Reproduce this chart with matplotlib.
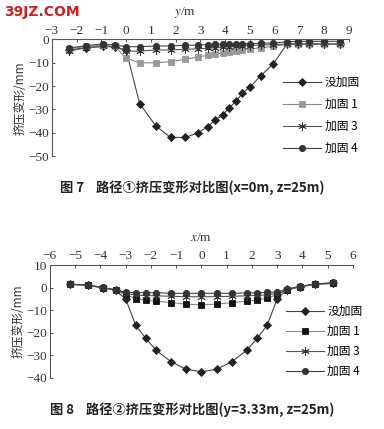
import matplotlib
matplotlib.use("Agg")
import matplotlib.pyplot as plt

plt.rcParams['font.family'] = ['Liberation Serif', 'Noto Sans CJK SC', 'DejaVu Sans']
plt.rcParams['mathtext.fontset'] = 'stix'

# path 1 (figure 7): positions along y, deformation in mm
pos1 = [-2.3, -1.6, -0.95, -0.45, 0, 0.55, 1.2, 1.8, 2.4, 2.9, 3.3, 3.6,
        3.9, 4.15, 4.45, 4.7, 5.0, 5.45, 5.95, 6.5, 6.95, 7.4, 8.0, 8.65]
none1 = [-4.5, -3.5, -3.0, -3.2, -4.5, -27.5, -37, -42, -42, -40, -37.5, -34.5,
         -32.5, -29.5, -26.5, -23, -20.5, -15.5, -10.5, -2.0, -1.8, -1.8, -1.8, -1.8]
r1_1 = [-4.0, -3.0, -2.5, -3.0, -8.0, -10, -10, -9.5, -8.5, -7.5, -6.8, -6.2,
        -5.8, -5.4, -5.0, -4.6, -4.2, -3.5, -3.0, -2.0, -1.8, -1.8, -1.8, -1.8]
r3_1 = [-5.0, -3.5, -3.0, -3.0, -5.0, -5.0, -4.5, -4.5, -4.2, -4.0, -3.8, -3.6,
        -3.4, -3.2, -3.0, -2.8, -2.6, -2.4, -2.2, -2.0, -2.0, -2.0, -2.0, -2.0]
r4_1 = [-3.7, -2.6, -1.9, -2.4, -3.1, -3.1, -2.8, -2.8, -2.5, -2.4, -2.2, -2.1,
        -2.0, -2.0, -1.9, -1.8, -1.8, -1.6, -1.5, -1.0, -0.8, -0.8, -0.8, -0.8]

# path 2 (figure 8): positions along x
pos2 = [-5.2, -4.5, -3.9, -3.4, -3.0, -2.6, -2.2, -1.8, -1.2, -0.6, 0,
        0.6, 1.2, 1.8, 2.2, 2.6, 3.0, 3.4, 3.9, 4.5, 5.2]
none2 = [1.5, 1.0, 0, -1.2, -5.0, -16.7, -22.5, -27.7, -32.8, -36.2, -37.2,
         -36.2, -32.8, -27.7, -22.5, -16.7, -5.0, -0.8, 0.5, 1.6, 2.0]
r1_2 = [1.5, 1.0, 0, -1.2, -3.0, -4.8, -5.6, -6.0, -6.6, -7.3, -7.6,
        -7.3, -6.6, -6.0, -5.5, -4.7, -3.0, -1.0, 0.4, 1.5, 1.9]
r3_2 = [1.5, 1.1, 0, -1.0, -2.6, -3.3, -3.5, -3.6, -3.8, -4.0, -4.0,
        -4.0, -3.8, -3.6, -3.4, -3.2, -2.6, -1.0, 0.4, 1.5, 1.9]
r4_2 = [1.6, 1.2, 0.1, -0.9, -2.1, -2.2, -2.2, -2.2, -2.5, -2.5, -2.5,
        -2.5, -2.5, -2.3, -2.3, -2.0, -2.0, -0.6, 0.6, 1.6, 2.3]

labels = ["没加固", "加固 1", "加固 3", "加固 4"]
cjk = ['Noto Sans CJK SC', 'DejaVu Sans']

fig = plt.figure(figsize=(3.84, 4.29), dpi=100)


def style_axes(ax, xlabel, label_x):
    for s in ("right", "bottom"):
        ax.spines[s].set_visible(False)
    for s in ("top", "left"):
        ax.spines[s].set_linewidth(0.8)
        ax.spines[s].set_color("#555555")
    ax.xaxis.set_ticks_position("top")
    ax.xaxis.set_label_position("top")
    ax.tick_params(direction="in", length=2.5, width=0.6, labelsize=9.5,
                   colors="#333333", pad=2)
    ax.set_xlabel(xlabel, fontsize=9.5, labelpad=3, color="#333333")
    ax.xaxis.set_label_coords(label_x, 1.21)
    ax.set_ylabel("挤压变形/mm", family=cjk, fontsize=8.5, color="#333333",
                  labelpad=1)


def draw(ax, pos, a, b, c, d, sq_color):
    kw = dict(lw=0.8, mew=0.6)
    ax.plot(pos, a, color="#444444", marker="D", ms=4, mfc="#222222",
            mec="#222222", label=labels[0], **kw)
    ax.plot(pos, b, color="#888888", marker="s", ms=4.5, mfc=sq_color,
            mec=sq_color, label=labels[1], **kw)
    ax.plot(pos, c, color="#555555", marker=(6, 2, 0), ms=6, mec="#333333",
            label=labels[2], **kw)
    ax.plot(pos, d, color="#444444", marker="o", ms=4.5, mfc="#333333",
            mec="#333333", label=labels[3], **kw)


ax1 = fig.add_axes([0.135, 0.636, 0.773, 0.272])
draw(ax1, pos1, none1, r1_1, r3_1, r4_1, "#999999")
ax1.set_xlim(-3, 9)
ax1.set_ylim(-50, 0)
ax1.set_xticks(range(-3, 10))
ax1.set_yticks(range(-50, 1, 10))
style_axes(ax1, "$y$/m", 0.45)
ax1.legend(loc="upper left", bbox_to_anchor=(0.76, 0.735), frameon=False,
           prop={'family': cjk, 'size': 8.5}, handlelength=3.2,
           labelspacing=0.75, handletextpad=0.3, borderpad=0)

ax2 = fig.add_axes([0.130, 0.119, 0.789, 0.263])
draw(ax2, pos2, none2, r1_2, r3_2, r4_2, "#111111")
ax2.set_xlim(-6, 6)
ax2.set_ylim(-40, 10)
ax2.set_xticks(range(-6, 7))
ax2.set_yticks(range(-40, 11, 10))
style_axes(ax2, "$x$/m", 0.5)
ax2.legend(loc="upper left", bbox_to_anchor=(0.76, 0.70), frameon=False,
           prop={'family': cjk, 'size': 8.5}, handlelength=3.2,
           labelspacing=0.6, handletextpad=0.3, borderpad=0)

fig.text(0.01, 0.972, "39JZ.COM", color="#cc2020", fontsize=10,
         fontweight="bold", family=['DejaVu Sans'], va="center")
fig.text(0.5, 0.562, "图 7    路径①挤压变形对比图(x=0m, z=25m)", family=cjk,
         fontsize=9.5, fontweight="bold", ha="center", va="center",
         color="#222222")
fig.text(0.5, 0.044, "图 8    路径②挤压变形对比图(y=3.33m, z=25m)", family=cjk,
         fontsize=9.5, fontweight="bold", ha="center", va="center",
         color="#222222")

fig.savefig("out.png", dpi=100)
